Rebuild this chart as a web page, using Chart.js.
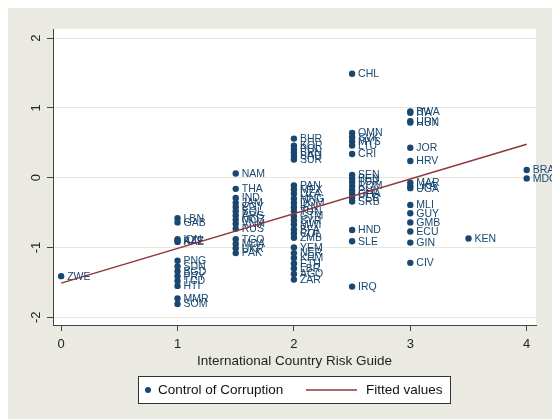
<!DOCTYPE html>
<html>
<head>
<meta charset="utf-8">
<script src="https://cdn.jsdelivr.net/npm/chart.js@4.4.1/dist/chart.umd.min.js"></script>
<style>
  html, body { margin: 0; padding: 0; background: #fff; }
  #wrap { width: 552px; height: 419px; }
</style>
</head>
<body>
<div id="wrap"><canvas id="c" width="552" height="419"></canvas></div>
<script>
// --- data ---
const codes = [
  'ZWE',
  'LBN', 'GAB', 'IDN', 'AZE', 'KAZ', 'PNG', 'SDN', 'BGD', 'PRY', 'TCD', 'HTI', 'MMR', 'SOM',
  'NAM', 'THA', 'IND', 'JAM', 'EGY', 'BOL', 'ARG', 'MOZ', 'VNM', 'RUS', 'TGO', 'MDA', 'UKR', 'PAK',
  'BHR', 'KOR', 'POL', 'BRN', 'SAU', 'SUR',
  'PAN', 'MEX', 'DZA', 'MNG', 'DOM', 'IRN', 'TUN', 'GTM', 'SYR', 'MWI', 'BFA', 'COL', 'ZMB',
  'YEM', 'NER', 'KHM', 'ETH', 'LBR', 'AGO', 'ZAR',
  'CHL', 'OMN', 'SVK', 'MYS', 'LTU', 'CRI', 'SEN', 'BEN', 'TUR', 'ROM', 'PHL', 'GHA', 'PER', 'SRB',
  'HND', 'SLE', 'IRQ',
  'BWA', 'ITA', 'URY', 'HUN', 'JOR', 'HRV', 'MAR', 'LKA', 'UGA', 'MLI', 'GUY', 'GMB', 'ECU', 'GIN', 'CIV',
  'KEN', 'BRA', 'MDG'
];
const icrg = [
  0,
  1, 1, 1, 1, 1, 1, 1, 1, 1, 1, 1, 1, 1,
  1.5, 1.5, 1.5, 1.5, 1.5, 1.5, 1.5, 1.5, 1.5, 1.5, 1.5, 1.5, 1.5, 1.5,
  2, 2, 2, 2, 2, 2,
  2, 2, 2, 2, 2, 2, 2, 2, 2, 2, 2, 2, 2,
  2, 2, 2, 2, 2, 2, 2,
  2.5, 2.5, 2.5, 2.5, 2.5, 2.5, 2.5, 2.5, 2.5, 2.5, 2.5, 2.5, 2.5, 2.5,
  2.5, 2.5, 2.5,
  3, 3, 3, 3, 3, 3, 3, 3, 3, 3, 3, 3, 3, 3, 3,
  3.5, 4, 4
];
const corruption = [
  -1.41,
  -0.58, -0.64, -0.88, -0.90, -0.92, -1.19, -1.27, -1.34, -1.41, -1.48, -1.55, -1.73, -1.81,
  0.06, -0.16, -0.29, -0.36, -0.42, -0.48, -0.54, -0.60, -0.66, -0.73, -0.88, -0.95, -1.01, -1.08,
  0.56, 0.46, 0.41, 0.36, 0.31, 0.26,
  -0.11, -0.17, -0.23, -0.30, -0.36, -0.42, -0.48, -0.55, -0.61, -0.67, -0.74, -0.80, -0.86,
  -1.00, -1.08, -1.15, -1.23, -1.30, -1.38, -1.46,
  1.49, 0.64, 0.58, 0.52, 0.46, 0.34, 0.04, -0.01, -0.06, -0.12, -0.18, -0.23, -0.29, -0.34,
  -0.75, -0.91, -1.56,
  0.95, 0.93, 0.81, 0.79, 0.43, 0.24, -0.07, -0.12, -0.15, -0.39, -0.51, -0.64, -0.77, -0.93, -1.22,
  -0.87, 0.11, -0.01
];
const fitX = [0, 4];
const fitY = [-1.51, 0.48];
const xTicks = [0, 1, 2, 3, 4];
const yTicks = [-2, -1, 0, 1, 2];

const navy = '#1a476f';
const maroon = '#90353b';
const FONT = '"Liberation Sans", Arial, sans-serif';

const scatterPts = codes.map((c, i) => ({ x: icrg[i], y: corruption[i] }));
const fitPts = fitX.map((x, i) => ({ x: x, y: fitY[i] }));

// background, point labels, rotated y labels, axis title, legend
const stataLook = {
    id: 'stataLook',
    beforeDraw(chart) {
        const { ctx, chartArea: a, width, height } = chart;
        ctx.save();
        ctx.fillStyle = '#fff';
        ctx.fillRect(0, 0, width, height);
        ctx.fillStyle = '#eaeae2';
        ctx.fillRect(8, 8, width - 8, height - 8);
        ctx.fillStyle = '#fff';
        ctx.fillRect(a.left, a.top, a.right - a.left, a.bottom - a.top);
        ctx.restore();
    },
    afterDatasetDraw(chart, args) {
        if (args.index !== 1) return;
        const ctx = chart.ctx;
        ctx.save();
        ctx.font = '10.5px ' + FONT;
        ctx.fillStyle = navy;
        ctx.textBaseline = 'middle';
        ctx.textAlign = 'left';
        args.meta.data.forEach((pt, i) => {
            ctx.fillText(codes[i], pt.x + 6, pt.y + 0.5);
        });
        ctx.restore();
    },
    afterDraw(chart) {
        const { ctx, chartArea: a, scales } = chart;
        ctx.save();
        ctx.fillStyle = '#222';
        ctx.font = '13px ' + FONT;
        ctx.textAlign = 'center';
        ctx.textBaseline = 'middle';
        yTicks.forEach(v => {
            const py = scales.y.getPixelForValue(v);
            ctx.save();
            ctx.translate(36, py);
            ctx.rotate(-Math.PI / 2);
            ctx.fillText(String(v), 0, 0);
            ctx.restore();
        });
        ctx.font = '13.5px ' + FONT;
        const cx = (a.left + a.right) / 2;
        ctx.fillText('International Country Risk Guide', cx, 361);

        // legend
        const lx = 138, ly = 376, lw = 313, lh = 28;
        ctx.fillStyle = '#fff';
        ctx.fillRect(lx, ly, lw, lh);
        ctx.strokeStyle = '#333';
        ctx.lineWidth = 1;
        ctx.strokeRect(lx + 0.5, ly + 0.5, lw - 1, lh - 1);
        const my = ly + lh / 2;
        ctx.fillStyle = navy;
        ctx.beginPath();
        ctx.arc(148, my, 3, 0, Math.PI * 2);
        ctx.fill();
        ctx.strokeStyle = maroon;
        ctx.lineWidth = 1.5;
        ctx.beginPath();
        ctx.moveTo(306, my);
        ctx.lineTo(357, my);
        ctx.stroke();
        ctx.fillStyle = '#111';
        ctx.textAlign = 'left';
        ctx.font = '13.5px ' + FONT;
        ctx.fillText('Control of Corruption', 158, my);
        ctx.fillText('Fitted values', 366, my);
        ctx.restore();
    }
};

new Chart(document.getElementById('c').getContext('2d'), {
    type: 'scatter',
    data: {
        datasets: [
            {
                label: 'Fitted values',
                data: fitPts,
                showLine: true,
                borderColor: maroon,
                borderWidth: 1.5,
                pointRadius: 0,
                fill: false
            },
            {
                label: 'Control of Corruption',
                data: scatterPts,
                backgroundColor: navy,
                borderColor: navy,
                borderWidth: 0,
                pointRadius: 3.2
            }
        ]
    },
    options: {
        responsive: false,
        animation: false,
        devicePixelRatio: 1,
        layout: { padding: { left: 0, top: 29, right: 16, bottom: 0 } },
        plugins: {
            legend: { display: false },
            tooltip: { enabled: false }
        },
        scales: {
            x: {
                type: 'linear',
                min: -0.07,
                max: 4.08,
                afterFit: s => { s.height = 94; },
                afterBuildTicks: s => { s.ticks = xTicks.map(v => ({ value: v })); },
                grid: {
                    drawOnChartArea: false,
                    drawTicks: true,
                    tickLength: 6,
                    color: '#444'
                },
                border: { display: true, color: '#444', width: 1 },
                ticks: {
                    color: '#222',
                    font: { size: 13, family: FONT },
                    padding: 6,
                    maxRotation: 0
                }
            },
            y: {
                type: 'linear',
                min: -2.11,
                max: 2.13,
                afterFit: s => { s.width = 53; },
                afterBuildTicks: s => { s.ticks = yTicks.map(v => ({ value: v })); },
                grid: {
                    color: '#e8e6d8',
                    lineWidth: 1,
                    drawTicks: true,
                    tickLength: 6,
                    tickColor: '#444'
                },
                border: { display: true, color: '#444', width: 1 },
                ticks: { display: false }
            }
        }
    },
    plugins: [stataLook]
});
</script>
</body>
</html>
